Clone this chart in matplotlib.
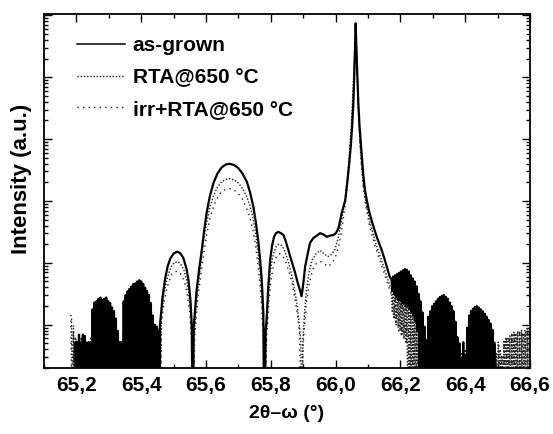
import numpy as np
import matplotlib
matplotlib.use("Agg")
import matplotlib.pyplot as plt
from matplotlib.lines import Line2D
from matplotlib.ticker import MultipleLocator, NullFormatter, FuncFormatter, LogLocator

plt.rcParams['font.family'] = ['Liberation Sans', 'DejaVu Sans']
plt.rcParams['font.weight'] = 'bold'

# ---- data, log10(intensity) ----
# noisy fringe regions: x grid start/end and the top of the counts (lines drop to zero below)
ag_left_x0, ag_left_x1 = 65.196, 65.454
ag_left_top = [0.70, 0.72, 0.84, 0.70, 0.84, 0.82, 0.70, 0.72, 0.70, 1.25,
               1.36, 1.38, 1.42, 1.44, 1.40, 1.42, 1.44, 1.38, 1.35, 1.28,
               1.22, 1.10, 0.90, 0.72, 0.70, 1.38, 1.48, 1.54, 1.58, 1.62,
               1.66, 1.67, 1.70, 1.72, 1.70, 1.66, 1.60, 1.55, 1.48, 1.35,
               1.15, 1.00, 0.97, 0.92]
ag_left_floor = [-1] * 44

ag_mid_x = [65.458, 65.466, 65.474, 65.482, 65.490, 65.500, 65.510, 65.520, 65.530, 65.540,
            65.546, 65.552, 65.556, 65.559, 65.562, 65.567, 65.571, 65.579, 65.587, 65.595,
            65.602, 65.612, 65.623, 65.635, 65.648, 65.661, 65.674, 65.687, 65.700, 65.713,
            65.726, 65.736, 65.746, 65.754, 65.761, 65.767, 65.772, 65.777, 65.780, 65.784,
            65.787, 65.792, 65.798, 65.804, 65.810, 65.816, 65.823, 65.831, 65.839, 65.846,
            65.854, 65.865, 65.875, 65.883, 65.890, 65.895, 65.900, 65.906, 65.914, 65.921,
            65.931, 65.942, 65.952, 65.962, 65.973, 65.983, 65.993, 66.001, 66.008, 66.014,
            66.019, 66.025, 66.030, 66.036, 66.042, 66.047, 66.051, 66.055, 66.058, 66.060,
            66.062, 66.064, 66.067, 66.070, 66.074, 66.079, 66.085, 66.090, 66.096, 66.104,
            66.111, 66.119, 66.127, 66.134, 66.142, 66.150, 66.158, 66.164, 66.168]
ag_mid_y = [1.00, 1.45, 1.75, 1.95, 2.07, 2.15, 2.18, 2.16, 2.08, 1.90,
            1.72, 1.40, 1.00, -1, 0.95, 1.30, 1.56, 1.90, 2.21, 2.55,
            2.81, 3.08, 3.29, 3.44, 3.54, 3.59, 3.60, 3.58, 3.53, 3.44,
            3.31, 3.14, 2.91, 2.65, 2.37, 2.05, 1.73, 1.19, -1, 0.90,
            1.08, 1.60, 2.05, 2.28, 2.42, 2.48, 2.50, 2.48, 2.45, 2.35,
            2.21, 2.02, 1.84, 1.68, 1.56, 1.46, 1.65, 1.94, 2.15, 2.32,
            2.40, 2.44, 2.48, 2.46, 2.42, 2.44, 2.45, 2.48, 2.55, 2.68,
            2.81, 2.92, 3.02, 3.30, 3.60, 3.90, 4.20, 4.60, 5.10, 5.50,
            5.87, 5.50, 5.05, 4.60, 4.20, 3.85, 3.45, 3.20, 3.02, 2.82,
            2.69, 2.55, 2.42, 2.32, 2.21, 2.08, 1.94, 1.84, 1.76]

ag_right_x0, ag_right_x1 = 66.172, 66.490
ag_right_top = [1.75, 1.78, 1.80, 1.82, 1.84, 1.86, 1.88, 1.90, 1.89, 1.86,
                1.80, 1.75, 1.70, 1.62, 1.50, 1.38, 1.20, 0.97, 0.75, 1.13,
                1.22, 1.30, 1.34, 1.38, 1.42, 1.45, 1.47, 1.48, 1.45, 1.42,
                1.36, 1.30, 1.22, 1.05, 0.80, 0.70, 0.45, 0.72, 0.50, 0.95,
                1.15, 1.22, 1.26, 1.29, 1.30, 1.28, 1.25, 1.22, 1.18, 1.13,
                1.08, 1.02, 0.92, 0.71]
ag_right_floor = [1.55, 1.50, 1.45, 1.40, 1.40, 1.35, 1.35, 1.30, 1.30, 1.25,
                  1.20, 1.15, 1.05, 0.90] + [-1] * 40

rta_left_x0, rta_left_x1 = 65.185, 65.455
rta_left_top = [1.10, 0.90, 0.80, 0.75, 0.72, 0.80, 0.75, 0.72, 0.70, 0.72,
                0.80, 0.95, 1.00, 1.05, 1.10, 1.12, 1.10, 1.12, 1.08, 1.05,
                1.00, 0.95, 0.90, 0.85, 0.80, 0.72, 0.75, 1.00, 1.15, 1.25,
                1.35, 1.42, 1.48, 1.52, 1.53, 1.52, 1.50, 1.45, 1.40, 1.32,
                1.22, 1.10, 0.95, 0.85, 0.75, 0.80]
rta_left_floor = [-1] * 46

rta_mid_x = [65.462, 65.470, 65.478, 65.486, 65.494, 65.502, 65.512, 65.522, 65.532, 65.540,
             65.547, 65.553, 65.557, 65.560, 65.563, 65.568, 65.574, 65.582, 65.590, 65.600,
             65.612, 65.623, 65.635, 65.648, 65.661, 65.674, 65.687, 65.700, 65.713, 65.726,
             65.736, 65.746, 65.754, 65.761, 65.767, 65.772, 65.777, 65.781, 65.786, 65.792,
             65.798, 65.806, 65.815, 65.824, 65.834, 65.844, 65.854, 65.864, 65.874, 65.882,
             65.888, 65.893, 65.896, 65.899, 65.904, 65.910, 65.918, 65.928, 65.940, 65.952,
             65.964, 65.976, 65.988, 65.998, 66.008, 66.016, 66.024, 66.030, 66.037, 66.043,
             66.048, 66.053, 66.057, 66.060, 66.062, 66.064, 66.067, 66.070, 66.074, 66.079,
             66.085, 66.091, 66.098, 66.106, 66.114, 66.122, 66.130, 66.138, 66.146, 66.154,
             66.162, 66.168]
rta_mid_y = [1.10, 1.50, 1.70, 1.85, 1.95, 2.00, 2.02, 1.98, 1.88, 1.72,
             1.50, 1.15, 0.70, -1, 0.75, 1.20, 1.55, 1.90, 2.25, 2.60,
             2.90, 3.08, 3.22, 3.31, 3.35, 3.36, 3.34, 3.29, 3.20, 3.07,
             2.92, 2.70, 2.45, 2.15, 1.85, 1.50, 0.95, -1, 0.85, 1.40,
             1.85, 2.10, 2.25, 2.30, 2.28, 2.18, 2.02, 1.82, 1.55, 1.30,
             1.00, 0.70, -1, 0.75, 1.20, 1.55, 1.85, 2.05, 2.15, 2.20,
             2.15, 2.10, 2.14, 2.22, 2.40, 2.62, 2.85, 3.05, 3.40, 3.80,
             4.20, 4.70, 5.20, 5.60, 5.80, 5.55, 5.00, 4.50, 4.05, 3.65,
             3.30, 3.05, 2.85, 2.65, 2.50, 2.35, 2.22, 2.10, 1.98, 1.85,
             1.72, 1.62]

rta_right_x0, rta_right_x1 = 66.172, 66.598
rta_right_top = [1.60, 1.62, 1.60, 1.64, 1.62, 1.66, 1.68, 1.66, 1.62, 1.58,
                 1.52, 1.45, 1.38, 1.30, 1.20, 1.05, 0.92, 0.80, 0.72, 0.80,
                 0.90, 0.98, 1.04, 1.08, 1.10, 1.12, 1.14, 1.12, 1.10, 1.06,
                 1.00, 0.94, 0.88, 0.80, 0.72, 0.62, 0.55, 0.70, 0.60, 0.78,
                 0.85, 0.90, 0.94, 0.96, 0.98, 0.96, 0.94, 0.90, 0.86, 0.82,
                 0.78, 0.72, 0.70, 0.62, 0.55, 0.72, 0.60, 0.50, 0.75, 0.80,
                 0.78, 0.82, 0.85, 0.88, 0.86, 0.90, 0.88, 0.92, 0.86, 0.90,
                 0.94, 0.90]
rta_right_floor = [1.20, 1.10, 1.00, 0.95, 0.90, 0.85, 0.80, 0.70] + [-1] * 64

irr_left_x0, irr_left_x1 = 65.183, 65.455
irr_left_top = [1.16, 1.00, 0.78, 0.72, 0.78, 0.70, 0.74, 0.70, 0.82, 0.92,
                0.98, 1.02, 1.00, 1.02, 0.98, 0.92, 0.86, 0.80, 0.74, 0.70,
                0.85, 1.05, 1.18, 1.28, 1.34, 1.38, 1.38, 1.36, 1.30, 1.22,
                1.12, 0.98, 0.82, 0.72, 0.78]
irr_left_floor = [-1] * 35

irr_mid_x = [65.463, 65.471, 65.479, 65.487, 65.495, 65.505, 65.515, 65.525, 65.534, 65.542,
             65.549, 65.555, 65.560, 65.565, 65.570, 65.576, 65.584, 65.593, 65.603, 65.614,
             65.626, 65.638, 65.650, 65.662, 65.674, 65.686, 65.698, 65.711, 65.724, 65.735,
             65.745, 65.753, 65.760, 65.766, 65.771, 65.776, 65.781, 65.787, 65.793, 65.800,
             65.808, 65.817, 65.826, 65.836, 65.846, 65.856, 65.866, 65.875, 65.883, 65.889,
             65.894, 65.900, 65.905, 65.911, 65.920, 65.930, 65.942, 65.954, 65.966, 65.978,
             65.990, 66.000, 66.010, 66.018, 66.025, 66.031, 66.038, 66.044, 66.049, 66.054,
             66.058, 66.061, 66.063, 66.065, 66.068, 66.071, 66.075, 66.080, 66.086, 66.092,
             66.099, 66.107, 66.115, 66.123, 66.131, 66.139, 66.147, 66.155, 66.163, 66.170]
irr_mid_y = [1.05, 1.38, 1.58, 1.72, 1.82, 1.86, 1.86, 1.80, 1.68, 1.50,
             1.22, 0.80, -1, 0.80, 1.15, 1.48, 1.80, 2.15, 2.48, 2.76,
             2.95, 3.08, 3.16, 3.19, 3.20, 3.18, 3.13, 3.04, 2.90, 2.74,
             2.52, 2.28, 1.98, 1.68, 1.35, 0.85, -1, 0.80, 1.28, 1.70,
             1.95, 2.10, 2.15, 2.12, 2.02, 1.86, 1.66, 1.40, 1.15, 0.85,
             -1, 0.70, 1.05, 1.40, 1.70, 1.90, 2.00, 2.02, 1.98, 1.94,
             2.00, 2.10, 2.28, 2.50, 2.75, 3.00, 3.35, 3.75, 4.15, 4.65,
             5.15, 5.55, 5.72, 5.40, 4.90, 4.40, 3.95, 3.55, 3.20, 2.95,
             2.75, 2.55, 2.40, 2.25, 2.12, 2.00, 1.88, 1.75, 1.62, 1.52]

irr_right_x0, irr_right_x1 = 66.176, 66.600
irr_right_top = [1.50, 1.48, 1.52, 1.50, 1.54, 1.52, 1.46, 1.40, 1.32, 1.22,
                 1.10, 0.95, 0.80, 0.70, 0.78, 0.88, 0.95, 1.00, 1.03, 1.04,
                 1.02, 0.98, 0.92, 0.85, 0.78, 0.70, 0.55, 0.68, 0.58, 0.72,
                 0.80, 0.85, 0.88, 0.88, 0.85, 0.80, 0.76, 0.72, 0.68, 0.62,
                 0.55, 0.66, 0.52, 0.70, 0.76, 0.80, 0.84, 0.88, 0.86, 0.90,
                 0.88, 0.92, 0.90, 0.86]
irr_right_floor = [1.10, 1.00, 0.90, 0.80, 0.75, 0.70] + [-1] * 48

labels = ['as-grown', 'RTA@650 °C', 'irr+RTA@650 °C']
x_ticks = [65.2, 65.4, 65.6, 65.8, 66.0, 66.2, 66.4, 66.6]


def zigzag(x0, x1, top, floor, h=0.003):
    # counts jumping between the fringe envelope and zero
    xg = np.linspace(x0, x1, len(top))
    xs, ys = [], []
    for x, t, f in zip(xg, top, floor):
        xs += [x, x + h]
        ys += [t, f]
    return xs, ys


def build(left, mid_x, mid_y, right):
    lx, ly = zigzag(*left)
    rx, ry = zigzag(*right)
    xs = lx + list(mid_x) + rx
    ys = ly + list(mid_y) + ry
    return np.array(xs), 10.0 ** np.array(ys)


ag_x, ag_y = build((ag_left_x0, ag_left_x1, ag_left_top, ag_left_floor), ag_mid_x, ag_mid_y,
                   (ag_right_x0, ag_right_x1, ag_right_top, ag_right_floor))
rta_x, rta_y = build((rta_left_x0, rta_left_x1, rta_left_top, rta_left_floor), rta_mid_x, rta_mid_y,
                     (rta_right_x0, rta_right_x1, rta_right_top, rta_right_floor))
irr_x, irr_y = build((irr_left_x0, irr_left_x1, irr_left_top, irr_left_floor), irr_mid_x, irr_mid_y,
                     (irr_right_x0, irr_right_x1, irr_right_top, irr_right_floor))

fig = plt.figure(figsize=(5.53, 4.34), dpi=100)
ax = fig.add_axes([44 / 553, 66 / 434, 486 / 553, 354 / 434])

ax.plot(irr_x, irr_y, color='#222222', lw=1.0, linestyle=(0, (1, 3)))
ax.plot(rta_x, rta_y, color='#222222', lw=1.0, linestyle=(0, (1, 1.3)))
ax.plot(ag_x, ag_y, color='black', lw=1.6)

ax.set_yscale('log')
ax.set_xlim(65.1, 66.6)
ax.set_ylim(2.0, 1.05e6)

ax.set_xticks(x_ticks)
ax.xaxis.set_minor_locator(MultipleLocator(0.1))
ax.xaxis.set_major_formatter(FuncFormatter(lambda v, p: f"{v:.1f}".replace('.', ',')))
ax.yaxis.set_major_locator(LogLocator(base=10, numticks=20))
ax.yaxis.set_minor_locator(LogLocator(base=10, subs=np.arange(2, 10), numticks=20))
ax.yaxis.set_major_formatter(NullFormatter())
ax.yaxis.set_minor_formatter(NullFormatter())

ax.tick_params(which='both', direction='in', top=True, right=True, width=1.0)
ax.tick_params(which='major', length=6, labelsize=15)
ax.tick_params(axis='x', which='major', pad=6)
ax.tick_params(which='minor', length=3)
for lab in ax.get_xticklabels():
    lab.set_fontweight('bold')
for sp in ax.spines.values():
    sp.set_linewidth(1.3)

ax.set_xlabel('2θ–ω (°)', fontsize=14, fontweight='bold', labelpad=7)
ax.set_ylabel('Intensity (a.u.)', fontsize=16, fontweight='bold')
ax.yaxis.set_label_coords(-0.024, 0.535)

# legend handles drawn thinner than the noisy traces
handles = [Line2D([], [], color='black', lw=1.1),
           Line2D([], [], color='#222222', lw=1.0, linestyle=(0, (1, 1.3))),
           Line2D([], [], color='#222222', lw=1.0, linestyle=(0, (1, 3)))]
ax.legend(handles, labels, loc='upper left', bbox_to_anchor=(0.029, 0.991), frameon=False,
          prop={'size': 15, 'weight': 'bold'}, handlelength=2.3, handletextpad=0.38,
          labelspacing=0.62)

fig.savefig('out.png', dpi=100)
